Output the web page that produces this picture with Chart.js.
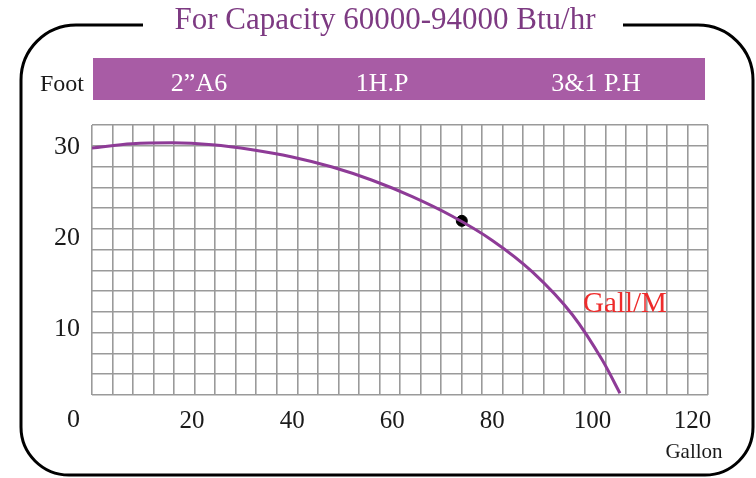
<!DOCTYPE html>
<html>
<head>
<meta charset="utf-8">
<script src="https://cdn.jsdelivr.net/npm/chart.js@4/dist/chart.umd.min.js"></script>
<style>
  html, body { margin: 0; padding: 0; background: #fff; }
  canvas { display: block; }
</style>
</head>
<body>
<canvas id="pumpChart" width="756" height="478"></canvas>
<script>
// Pump curve: flow (Gallon) against head (Foot)
const flowGallon = [0, 8, 16, 24, 32, 40, 48, 56, 64, 72, 80, 88, 96, 102, 105.5]
const headFoot = [29.9, 30.35, 30.45, 30.25, 29.7, 28.9, 27.8, 26.35, 24.55, 22.4, 19.75, 16.3, 11.6, 6.6, 3.0]

// duty point marked with the black dot
const dutyFlow = [73.9]
const dutyHead = [21.9]

const xTickValues = [20, 40, 60, 80, 100, 120]
const yTickValues = [0, 10, 20, 30]

const titleText = 'For Capacity 60000-94000 Btu/hr'
const bannerLabels = ['2\u201dA6', '1H.P', '3&1 P.H']
const yAxisName = 'Foot'
const xAxisName = 'Gallon'
const curveName = 'Gall/M'

const serif = '"Liberation Serif", "DejaVu Serif", serif'
const purple = '#8e3b97'

function roundedFrame(ctx) {
  const l = 21, r = 753, t = 25, b = 475, rt = 55, rb = 48
  ctx.save()
  ctx.strokeStyle = '#000'
  ctx.lineWidth = 3
  ctx.beginPath()
  ctx.moveTo(143, t)
  ctx.arcTo(l, t, l, t + rt, rt)
  ctx.arcTo(l, b, l + rb, b, rb)
  ctx.arcTo(r, b, r, b - rb, rb)
  ctx.arcTo(r, t, r - rt, t, rt)
  ctx.lineTo(623, t)
  ctx.stroke()
  ctx.restore()
}

const decorations = {
  id: 'decorations',
  beforeDraw(chart) {
    const ctx = chart.ctx
    ctx.save()
    ctx.fillStyle = '#fff'
    ctx.fillRect(0, 0, chart.width, chart.height)

    roundedFrame(ctx)

    ctx.fillStyle = '#7d3a82'
    ctx.font = '31px ' + serif
    ctx.textAlign = 'center'
    ctx.textBaseline = 'alphabetic'
    ctx.fillText(titleText, 385, 29)

    // purple band above the grid
    ctx.fillStyle = '#a85ca5'
    ctx.fillRect(93, 58, 612, 42)

    ctx.fillStyle = '#fff'
    ctx.font = '26px ' + serif
    const centers = [199, 382, 596]
    bannerLabels.forEach((txt, i) => ctx.fillText(txt, centers[i], 91))

    ctx.fillStyle = '#1a1a1a'
    ctx.font = '24px ' + serif
    ctx.textAlign = 'left'
    ctx.fillText(yAxisName, 40, 91)
    ctx.restore()
  },
  afterDraw(chart) {
    const ctx = chart.ctx
    ctx.save()
    ctx.textAlign = 'center'
    ctx.textBaseline = 'alphabetic'
    ctx.fillStyle = '#1a1a1a'
    ctx.font = '21px ' + serif
    ctx.fillText(xAxisName, 694, 458)

    ctx.fillStyle = '#ee2b2b'
    ctx.font = '29px ' + serif
    ctx.fillText(curveName, 625, 312)
    ctx.restore()
  }
}

const ctx = document.getElementById('pumpChart').getContext('2d')
const pumpChart = new Chart(ctx, {
  type: 'line',
  data: {
    datasets: [{
      label: curveName,
      data: flowGallon.map((f, i) => ({ x: f, y: headFoot[i] })),
      borderColor: purple,
      borderWidth: 3,
      pointRadius: 0,
      cubicInterpolationMode: 'monotone',
      xAxisID: 'x',
      yAxisID: 'y'
    }, {
      label: 'duty',
      data: dutyFlow.map((f, i) => ({ x: f, y: dutyHead[i] })),
      showLine: false,
      pointRadius: 5.5,
      pointBackgroundColor: '#000',
      pointBorderColor: '#000',
      xAxisID: 'x',
      yAxisID: 'y'
    }]
  },
  options: {
    responsive: false,
    animation: false,
    layout: { padding: { top: 125, right: 48, left: 0, bottom: 0 } },
    plugins: {
      legend: { display: false },
      tooltip: { enabled: false }
    },
    scales: {
      x: {
        type: 'linear',
        position: 'bottom',
        min: 0,
        max: 123.1,
        afterBuildTicks: scale => { scale.ticks = xTickValues.map(v => ({ value: v })) },
        afterFit: scale => { scale.height = 83 },
        ticks: {
          autoSkip: false,
          maxRotation: 0,
          padding: 11,
          color: '#1a1a1a',
          font: { family: serif, size: 25 }
        },
        grid: { display: false, drawTicks: false },
        border: { display: false }
      },
      y: {
        type: 'linear',
        position: 'left',
        min: 2.8,
        max: 32.41,
        afterBuildTicks: scale => { scale.ticks = yTickValues.map(v => ({ value: v })) },
        afterFit: scale => { scale.width = 92 },
        ticks: {
          autoSkip: false,
          padding: 12,
          color: '#1a1a1a',
          font: { family: serif, size: 26 }
        },
        grid: { display: false, drawTicks: false },
        border: { display: false }
      },
      // the squared paper behind the curve
      gridX: {
        type: 'linear',
        position: 'top',
        min: 0,
        max: 30,
        ticks: { display: false, stepSize: 1 },
        afterFit: scale => { scale.height = 0 },
        grid: { color: '#9a9a9a', lineWidth: 1.6, drawTicks: false },
        border: { display: false }
      },
      gridY: {
        type: 'linear',
        position: 'right',
        min: 0,
        max: 13,
        ticks: { display: false, stepSize: 1 },
        afterFit: scale => { scale.width = 0 },
        grid: { color: '#9a9a9a', lineWidth: 1.6, drawTicks: false },
        border: { display: false }
      }
    }
  },
  plugins: [decorations]
})
</script>
</body>
</html>
